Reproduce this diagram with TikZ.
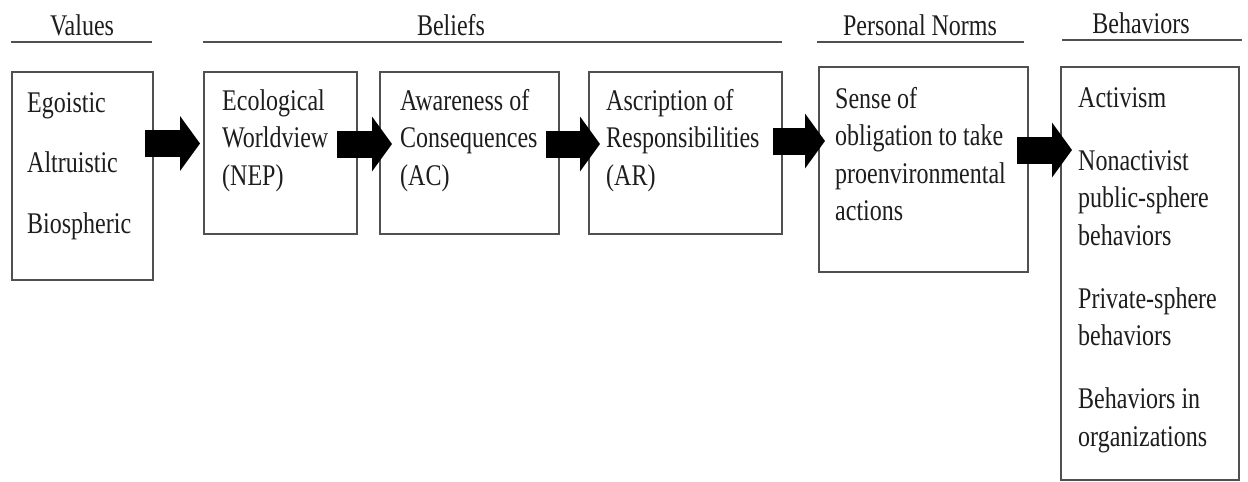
\documentclass[tikz,border=0pt]{standalone}
\usepackage{fontspec}
\setmainfont{Liberation Serif}[FakeStretch=0.8]
\usetikzlibrary{arrows.meta,calc}
\definecolor{framegray}{RGB}{80,80,80}
\definecolor{inkcol}{RGB}{30,28,28}
\begin{document}
\begin{tikzpicture}[x=1pt,y=-1pt,
  boxframe/.style={draw=framegray, line width=1.8pt, inner sep=0pt, outer sep=0pt, anchor=north west},
  txt/.style={inner sep=0pt, anchor=base west, text=inkcol, font=\fontsize{30}{37.5}\selectfont},
  heading/.style={inner sep=0pt, anchor=base, text=inkcol, font=\fontsize{30}{37.5}\selectfont},
  rule/.style={draw=framegray, line width=1.8pt},
  blockarrow/.style={draw=black, line width=27pt, -{Triangle[length=20pt,width=54pt]}}]
\useasboundingbox (0,0) rectangle (1248,482);

% column headings with their underlines
\node[heading] (hval) at (82,35) {Values};
\node[heading] (hbel) at (451,35) {Beliefs};
\node[heading] (hpn)  at (920,35) {Personal Norms};
\node[heading] (hbeh) at (1141,33) {Behaviors};
\draw[rule] (11,42) -- (152,42);
\draw[rule] (203,42) -- (782,42);
\draw[rule] (817,42) -- (1024,42);
\draw[rule] (1062,40) -- (1242,40);

% boxes
\node[boxframe, minimum width=141pt, minimum height=208pt] (vals) at (12,72) {};
\node[boxframe, minimum width=153pt, minimum height=162pt] (nep)  at (204,72) {};
\node[boxframe, minimum width=179pt, minimum height=162pt] (ac)   at (380,72) {};
\node[boxframe, minimum width=193pt, minimum height=162pt] (ar)   at (589,72) {};
\node[boxframe, minimum width=209pt, minimum height=205pt] (pn)   at (819,67) {};
\node[boxframe, minimum width=178pt, minimum height=413pt] (beh)  at (1061,67) {};

% box contents
\node[txt] (valsT) at (27,112) {\begin{tabular}[t]{@{}l@{}}Egoistic\\[23pt]Altruistic\\[23pt]Biospheric\end{tabular}};
\node[txt] (nepT) at (222,110) {\begin{tabular}[t]{@{}l@{}}Ecological\\Worldview\\(NEP)\end{tabular}};
\node[txt] (acT) at (400,110) {\begin{tabular}[t]{@{}l@{}}Awareness of\\Consequences\\(AC)\end{tabular}};
\node[txt] (arT) at (606,110) {\begin{tabular}[t]{@{}l@{}}Ascription of\\Responsibilities\\(AR)\end{tabular}};
\node[txt] (pnT) at (835,108) {\begin{tabular}[t]{@{}l@{}}Sense of\\obligation to take\\proenvironmental\\actions\end{tabular}};
\node[txt] (behT) at (1078,107) {\begin{tabular}[t]{@{}l@{}}Activism\\[25.5pt]Nonactivist\\public-sphere\\behaviors\\[25.5pt]Private-sphere\\behaviors\\[25.5pt]Behaviors in\\organizations\end{tabular}};

% rows of the block arrows
\coordinate (ya) at (0,143.5);
\coordinate (yb) at (0,144);
\coordinate (yc) at (0,144);
\coordinate (yd) at (0,141);
\coordinate (ye) at (0,150);

% block arrows between the boxes
\draw[blockarrow] ($(vals.east|-ya)+(-8,0)$) -- ($(nep.west|-ya)+(-4,0)$);
\draw[blockarrow] ($(nep.east|-yb)+(-20,0)$) -- ($(ac.west|-yb)+(12,0)$);
\draw[blockarrow] ($(ac.east|-yc)+(-13,0)$) -- ($(ar.west|-yc)+(11,0)$);
\draw[blockarrow] ($(ar.east|-yd)+(-9,0)$) -- ($(pn.west|-yd)+(6,0)$);
\draw[blockarrow] ($(pn.east|-ye)+(-11,0)$) -- ($(beh.west|-ye)+(11,0)$);
\end{tikzpicture}
\end{document}
